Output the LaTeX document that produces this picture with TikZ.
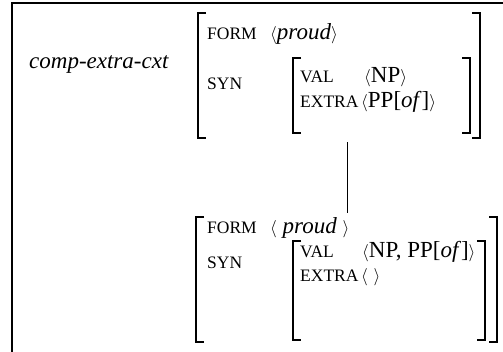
\documentclass[tikz,border=0pt]{standalone}
\usepackage{fontspec}
\setmainfont{Liberation Serif}
\usepackage{tikz}
\usetikzlibrary{positioning}
\newcommand{\attr}[1]{{\fontsize{17.5}{17.5}\selectfont #1}}
\newcommand{\la}{{\fontsize{19}{19}\selectfont$\langle$}}
\newcommand{\ra}{{\fontsize{19}{19}\selectfont$\rangle$}}
\tikzset{
  lbl/.style={anchor=base west, inner sep=0pt, font=\fontsize{23}{23}\selectfont},
  brak/.style={line width=1.3pt},
}

\begin{document}
\begin{tikzpicture}[x=1pt,y=-1pt]
    \useasboundingbox (0,0) rectangle (503,351);
    \clip (0,0) rectangle (503,351);
    \draw[line width=2pt] (520,3) -- (12,3) -- (12,360);
    % upper structure
    \node[lbl] (cxt) at (29,68) {\textit{comp-extra-cxt}};
    \node[lbl] (form1) at (207,39) {\attr{FORM}};
    \node[lbl] (proud1) at (270,39) {\la\textit{proud}\ra};
    \node[lbl] (syn1) at (207,89) {\attr{SYN}};
    \node[lbl] (val1) at (300,82) {\attr{VAL}};
    \node[lbl] (np1) at (364,82) {\la NP\ra};
    \node[lbl] (extra1) at (300,107) {\attr{EXTRA}};
    \node[lbl] (pp1) at (361,107) {\la PP[\textit{of}]\ra};
    \draw[brak] (206,13) -- (198,13) -- (198,138) -- (206,138);
    \draw[brak] (472,13) -- (480,13) -- (480,138) -- (472,138);
    \draw[brak] (301,58) -- (293,58) -- (293,133) -- (301,133);
    \draw[brak] (462,58) -- (470,58) -- (470,133) -- (462,133);
    % lower structure
    \node[lbl] (form2) at (207,233) {\attr{FORM}};
    \node[lbl] (proud2) at (270,233) {\la\ \textit{proud}\ \ra};
    \node[lbl] (syn2) at (207,268) {\attr{SYN}};
    \node[lbl] (val2) at (300,257) {\attr{VAL}};
    \node[lbl] (np2) at (362,257) {\la NP, PP[\textit{of}]\ra};
    \node[lbl] (extra2) at (300,281) {\attr{EXTRA}};
    \node[lbl] (empty2) at (361,281) {\la\ \ra};
    \draw[brak] (204,217) -- (196,217) -- (196,342) -- (204,342);
    \draw[brak] (489,217) -- (497,217) -- (497,342) -- (489,342);
    \draw[brak] (301,241) -- (293,241) -- (293,340) -- (301,340);
    \draw[brak] (477,241) -- (485,241) -- (485,340) -- (477,340);
    % link
    \coordinate (up) at (347,142);
    \coordinate (down) at (347,213);
    \draw[line width=0.8pt] (up) -- (down);
\end{tikzpicture}
\end{document}
